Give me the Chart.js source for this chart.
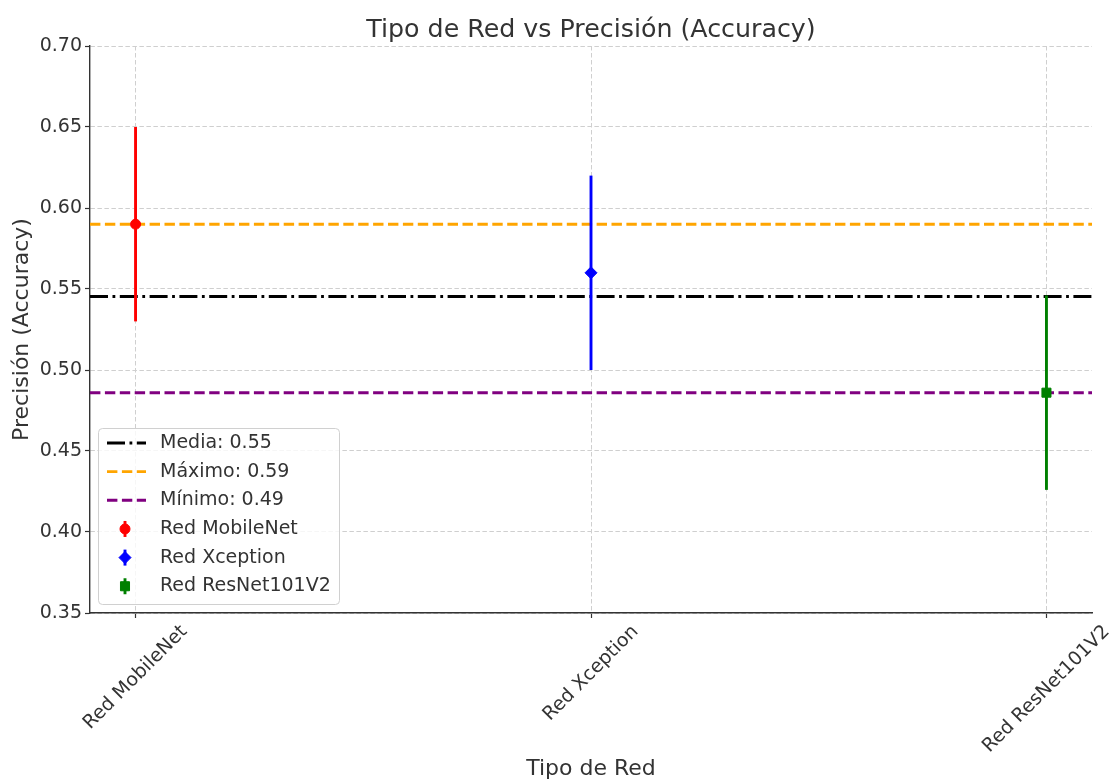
<!DOCTYPE html>
<html>
<head>
<meta charset="utf-8">
<script src="https://cdn.jsdelivr.net/npm/chart.js@4/dist/chart.umd.min.js"></script>
<style>
  html, body { margin: 0; padding: 0; background: #ffffff; }
  #wrap { width: 1110px; height: 781px; }
</style>
</head>
<body>
<div id="wrap"><canvas id="c" width="1110" height="781"></canvas></div>
<script>
// Networks and their accuracy, with the lower / upper end of each error bar
const categories = ['Red MobileNet', 'Red Xception', 'Red ResNet101V2'];
const accuracy = [0.59, 0.56, 0.486];
const errLow = [0.53, 0.50, 0.426];
const errHigh = [0.65, 0.62, 0.546];
const yTicks = [0.35, 0.40, 0.45, 0.50, 0.55, 0.60, 0.65, 0.70];

const seriesColors = ['red', 'blue', 'green'];
const markerStyles = ['circle', 'rectRot', 'rect'];
const markerSizes = [5, 6, 6.4];

const chartTitle = 'Tipo de Red vs Precisión (Accuracy)';
const xTitle = 'Tipo de Red';
const yTitle = 'Precisión (Accuracy)';

// Summary lines
const meanAcc = accuracy.reduce((s, v) => s + v, 0) / accuracy.length;
const maxAcc = Math.max(...accuracy);
const minAcc = Math.min(...accuracy);
const refLines = [
  { label: 'Media: ' + meanAcc.toFixed(2), value: meanAcc, color: '#000000', dash: [18, 4.5, 2.8, 4.5] },
  { label: 'Máximo: ' + maxAcc.toFixed(2), value: maxAcc, color: 'orange', dash: [10.4, 4.5] },
  { label: 'Mínimo: ' + minAcc.toFixed(2), value: minAcc, color: 'purple', dash: [10.4, 4.5] }
];

const X_MIN = -0.1, X_MAX = categories.length - 1 + 0.1;
const LW = 2.9;
const FONT = '"DejaVu Sans", sans-serif';
const TEXT = '#333333';
const TICK_SIZE = 19;

const datasets = [];
refLines.forEach(r => {
  datasets.push({
    label: r.label,
    data: [{ x: X_MIN, y: r.value }, { x: X_MAX, y: r.value }],
    showLine: true, borderColor: r.color, borderWidth: LW, borderDash: r.dash,
    pointRadius: 0, order: 3
  });
});
categories.forEach((c, i) => {
  datasets.push({
    label: c + ' err',
    data: [{ x: i, y: errLow[i] }, { x: i, y: errHigh[i] }],
    showLine: true, borderColor: seriesColors[i], borderWidth: LW,
    borderCapStyle: 'butt', pointRadius: 0, order: 2
  });
  datasets.push({
    label: c,
    data: [{ x: i, y: accuracy[i] }],
    pointStyle: markerStyles[i], pointRadius: markerSizes[i],
    backgroundColor: seriesColors[i], borderColor: seriesColors[i], borderWidth: 1,
    order: 1
  });
});

function drawMarker(ctx, style, r, color, x, y) {
  ctx.save();
  ctx.fillStyle = color; ctx.strokeStyle = color; ctx.lineWidth = 1;
  ctx.beginPath();
  if (style === 'circle') {
    ctx.arc(x, y, r, 0, Math.PI * 2);
  } else if (style === 'rectRot') {
    ctx.moveTo(x - r, y); ctx.lineTo(x, y - r); ctx.lineTo(x + r, y); ctx.lineTo(x, y + r); ctx.closePath();
  } else {
    const s = r * Math.SQRT1_2;
    ctx.rect(x - s, y - s, 2 * s, 2 * s);
  }
  ctx.fill(); ctx.stroke();
  ctx.restore();
}

const figureText = {
  id: 'figureText',
  afterDraw(chart) {
    const { ctx, chartArea: a, scales: { x } } = chart;
    const cx = (a.left + a.right) / 2;
    ctx.save();
    ctx.fillStyle = TEXT;
    ctx.textAlign = 'center';

    ctx.font = '25.3px ' + FONT;
    ctx.textBaseline = 'alphabetic';
    ctx.fillText(chartTitle, cx, 37);

    ctx.font = '22px ' + FONT;
    ctx.fillText(xTitle, cx, 775);

    ctx.save();
    ctx.translate(22, (a.top + a.bottom) / 2);
    ctx.rotate(-Math.PI / 2);
    ctx.textBaseline = 'middle';
    ctx.fillText(yTitle, 0, 0);
    ctx.restore();

    // rotated category labels, centred under each tick
    ctx.font = TICK_SIZE + 'px ' + FONT;
    categories.forEach((c, i) => {
      const px = x.getPixelForValue(i);
      const w = ctx.measureText(c).width;
      const half = (w + 22) / (2 * Math.SQRT2);
      ctx.save();
      ctx.translate(px, a.bottom + 8 + half);
      ctx.rotate(-Math.PI / 4);
      ctx.textBaseline = 'middle';
      ctx.fillText(c, 0, 0);
      ctx.restore();
    });

    // legend
    const bx = 98, by = 428, bw = 241, bh = 176;
    ctx.beginPath();
    ctx.roundRect(bx + 0.5, by + 0.5, bw, bh, 4);
    ctx.fillStyle = 'rgba(255,255,255,0.8)';
    ctx.fill();
    ctx.strokeStyle = '#d0d0d0'; ctx.lineWidth = 1;
    ctx.stroke();

    const rowY = i => 443 + i * 28.65;
    ctx.font = TICK_SIZE + 'px ' + FONT;
    ctx.textAlign = 'left';
    ctx.textBaseline = 'middle';
    refLines.forEach((r, i) => {
      const y = rowY(i);
      ctx.save();
      ctx.strokeStyle = r.color; ctx.lineWidth = LW; ctx.setLineDash(r.dash);
      ctx.beginPath(); ctx.moveTo(107, y); ctx.lineTo(146, y); ctx.stroke();
      ctx.restore();
      ctx.fillStyle = TEXT;
      ctx.fillText(r.label, 160, y);
    });
    categories.forEach((c, i) => {
      const y = rowY(i + refLines.length);
      ctx.save();
      ctx.strokeStyle = seriesColors[i]; ctx.lineWidth = LW;
      ctx.beginPath(); ctx.moveTo(125, y - 8); ctx.lineTo(125, y + 8); ctx.stroke();
      ctx.restore();
      drawMarker(ctx, markerStyles[i], markerSizes[i], seriesColors[i], 125, y);
      ctx.fillStyle = TEXT;
      ctx.fillText(c, 160, y);
    });
    ctx.restore();
  }
};

new Chart(document.getElementById('c'), {
  type: 'scatter',
  data: { datasets },
  plugins: [figureText],
  options: {
    responsive: false,
    animation: false,
    layout: { padding: { top: 46, right: 18, left: 0, bottom: 0 } },
    plugins: { legend: { display: false }, tooltip: { enabled: false }, title: { display: false } },
    scales: {
      x: {
        type: 'linear', min: X_MIN, max: X_MAX,
        afterBuildTicks: s => { s.ticks = categories.map((_, i) => ({ value: i })); },
        afterFit: s => { s.height = 168; },
        ticks: { display: false },
        grid: { color: '#cfcfcf', lineWidth: 1, drawTicks: true, tickLength: 5, tickColor: '#333333', tickWidth: 1.2 },
        border: { display: true, color: '#333333', width: 1.4, dash: [4.5, 2.5] }
      },
      y: {
        type: 'linear', min: yTicks[0], max: yTicks[yTicks.length - 1],
        afterBuildTicks: s => { s.ticks = yTicks.map(v => ({ value: v })); },
        afterFit: s => { s.width = 90; },
        ticks: { color: TEXT, font: { family: FONT, size: TICK_SIZE }, padding: 3, callback: v => v.toFixed(2) },
        grid: { color: '#cfcfcf', lineWidth: 1, drawTicks: true, tickLength: 5, tickColor: '#333333', tickWidth: 1.2 },
        border: { display: true, color: '#333333', width: 1.4, dash: [4.5, 2.5] }
      }
    }
  }
});
</script>
</body>
</html>
